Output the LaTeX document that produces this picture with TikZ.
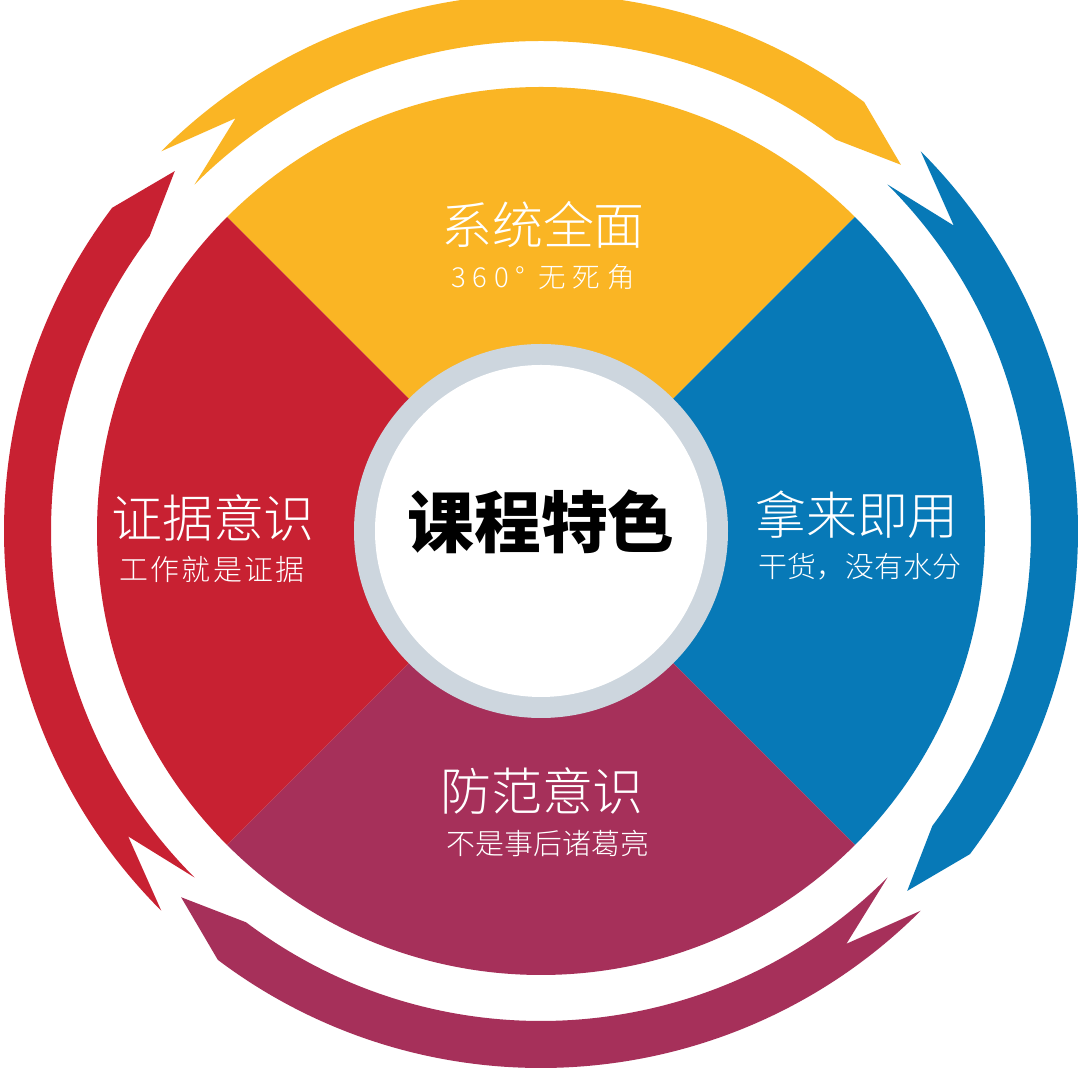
\documentclass[tikz,border=0pt]{standalone}
\usepackage{fontspec}
\newfontfamily\cjk{Noto Sans CJK SC}
\newfontfamily\cjkl{Noto Sans CJK SC Light}
\definecolor{cyel}{RGB}{250,181,36}
\definecolor{cblu}{RGB}{7,121,183}
\definecolor{cpur}{RGB}{166,48,90}
\definecolor{cred}{RGB}{200,33,50}
\definecolor{cgray}{RGB}{205,214,222}
\tikzset{
  lab/.style={text=white, inner sep=0pt, font=\cjkl\fontsize{43.5}{50}\selectfont},
  sublab/.style={text=white, inner sep=0pt, font=\cjkl\fontsize{24.7}{28}\selectfont},
}
\begin{document}
\begin{tikzpicture}[x=0.03cm,y=0.03cm]
\useasboundingbox (0,0) rectangle (1080,1071);
\fill[white] (0,0) rectangle (1080,1071);
\begin{scope}[shift={(541,540)}]
  \foreach \a/\c in {90/cyel,0/cblu,-90/cpur,180/cred}{
    \fill[\c] (0,0) -- (\a+45:444) arc[start angle=\a+45, end angle=\a-45, radius=444] -- cycle;
    \fill[\c] (\a+45:537) arc[start angle=\a+45, end angle=\a-37, radius=537]
      -- (\a-44.5:513.5) -- (\a-37:490)
      arc[start angle=\a-37, end angle=\a+45, radius=490]
      -- (\a+36.5:513.5) -- cycle;
  }
  \fill[cgray] (0,0) circle[radius=187];
  \fill[white] (0,0) circle[radius=166];
\end{scope}
\node[inner sep=0pt, font=\cjk\bfseries\fontsize{57}{64}\selectfont] (hub) at (541,549) {课程特色};
\node[lab] (t1) at (543,846) {系统全面};
\node[sublab, font=\cjkl\fontsize{23.5}{26}\selectfont\addfontfeature{LetterSpace=25}] (s1) at (543,794) {360° 无死角};
\node[lab] (t2) at (857,556) {拿来即用};
\node[sublab] (s2) at (860,504) {干货，没有水分};
\node[lab] (t3) at (542,280) {防范意识};
\node[sublab] (s3) at (548,228) {不是事后诸葛亮};
\node[lab] (t4) at (213,553) {证据意识};
\node[sublab, font=\cjkl\fontsize{24.7}{28}\selectfont\addfontfeature{LetterSpace=8}] (s4) at (212,501) {工作就是证据};
\end{tikzpicture}
\end{document}
